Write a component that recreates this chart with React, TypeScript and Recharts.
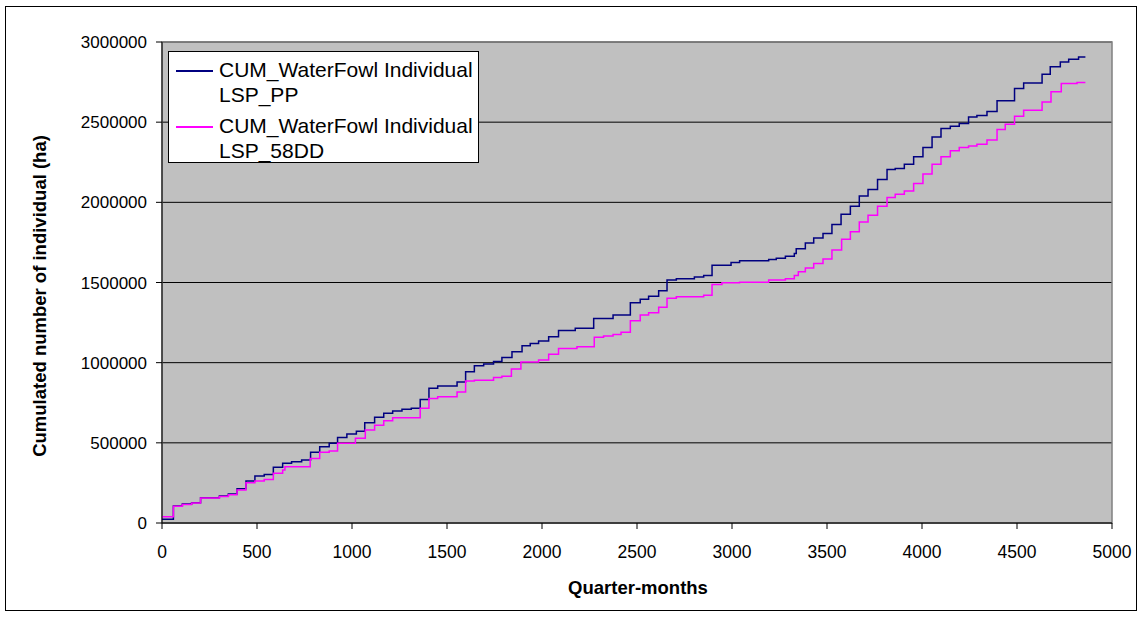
import React from "react";
import { LineChart, Line, XAxis, YAxis, CartesianGrid, ReferenceArea, Legend } from "recharts";

const xTicks = [0, 500, 1000, 1500, 2000, 2500, 3000, 3500, 4000, 4500, 5000];
const yTicks = [0, 500000, 1000000, 1500000, 2000000, 2500000, 3000000];

const ppNames = ["CUM_WaterFowl Individual", "LSP_PP"];
const ddNames = ["CUM_WaterFowl Individual", "LSP_58DD"];

// quarter-month where each step starts, cumulated value after it
const ppQuarter = [
  0, 60, 107, 156, 203, 302, 349, 395, 442, 489, 538, 586, 635, 682, 735, 782, 830, 880, 924, 973,
  1023, 1067, 1119, 1167, 1214, 1263, 1312, 1359, 1405, 1451, 1553, 1598, 1644, 1693, 1745, 1789,
  1842, 1895, 1938, 1982, 2035, 2087, 2175, 2272, 2374, 2465, 2517, 2561, 2614, 2658, 2707, 2802,
  2851, 2895, 2995, 3040, 3193, 3233, 3281, 3328, 3338, 3386, 3430, 3479, 3526, 3574, 3623, 3670,
  3716, 3766, 3816, 3859, 3907, 3956, 4005, 4053, 4100, 4149, 4196, 4245, 4289, 4342, 4395, 4487,
  4535, 4632, 4675, 4728, 4772, 4824, 4860,
];
const ppValue = [
  23000, 106000, 118000, 127000, 158000, 168000, 181000, 214000, 262000, 293000, 303000, 347000,
  372000, 382000, 393000, 441000, 476000, 497000, 534000, 555000, 573000, 625000, 659000, 684000,
  698000, 709000, 715000, 771000, 840000, 854000, 879000, 943000, 981000, 991000, 1008000, 1033000,
  1068000, 1105000, 1120000, 1135000, 1162000, 1201000, 1214000, 1276000, 1297000, 1373000, 1396000,
  1415000, 1448000, 1515000, 1523000, 1534000, 1544000, 1608000, 1625000, 1635000, 1644000, 1652000,
  1664000, 1681000, 1710000, 1747000, 1778000, 1806000, 1862000, 1926000, 1976000, 2039000, 2080000,
  2143000, 2205000, 2211000, 2238000, 2284000, 2342000, 2408000, 2460000, 2475000, 2492000, 2533000,
  2542000, 2566000, 2633000, 2710000, 2745000, 2799000, 2845000, 2876000, 2893000, 2907000, 2907000,
];

const ddQuarter = [
  0, 60, 107, 156, 203, 302, 349, 395, 442, 489, 538, 586, 635, 647, 780, 830, 880, 924, 1018, 1070,
  1119, 1167, 1214, 1359, 1405, 1451, 1553, 1598, 1644, 1745, 1789, 1839, 1889, 1982, 2035, 2087,
  2184, 2275, 2324, 2374, 2416, 2465, 2517, 2561, 2614, 2658, 2707, 2851, 2895, 2947, 3040, 3193,
  3281, 3328, 3349, 3386, 3430, 3479, 3526, 3577, 3623, 3670, 3716, 3766, 3816, 3859, 3907, 3956,
  4005, 4053, 4100, 4149, 4196, 4245, 4289, 4342, 4395, 4438, 4487, 4535, 4632, 4679, 4733, 4816,
  4860,
];
const ddValue = [
  39000, 104000, 116000, 125000, 156000, 166000, 176000, 206000, 251000, 262000, 272000, 310000,
  330000, 351000, 403000, 441000, 449000, 497000, 528000, 580000, 609000, 638000, 657000, 715000,
  777000, 787000, 817000, 885000, 891000, 908000, 915000, 960000, 1004000, 1016000, 1052000, 1089000,
  1099000, 1158000, 1166000, 1176000, 1189000, 1261000, 1297000, 1311000, 1345000, 1401000, 1411000,
  1421000, 1488000, 1498000, 1502000, 1515000, 1523000, 1544000, 1567000, 1590000, 1619000, 1646000,
  1702000, 1769000, 1816000, 1878000, 1920000, 1976000, 2030000, 2051000, 2070000, 2118000, 2176000,
  2238000, 2284000, 2321000, 2342000, 2352000, 2363000, 2388000, 2454000, 2487000, 2537000, 2575000,
  2626000, 2689000, 2741000, 2747000, 2747000,
];

const ppData = ppQuarter.map((q, i) => ({ q, v: ppValue[i] }));
const ddData = ddQuarter.map((q, i) => ({ q, v: ddValue[i] }));

const FONT = "'Liberation Sans', Arial, sans-serif";

function LegendBox() {
  const entries = [
    { color: "#000080", lines: ppNames },
    { color: "#FF00FF", lines: ddNames },
  ];
  return (
    <div
      style={{
        background: "#fff",
        border: "1px solid #000",
        width: 311,
        height: 112,
        boxSizing: "border-box",
        padding: "5px 0 0 7px",
        fontFamily: FONT,
        fontSize: 21,
        lineHeight: "25px",
        color: "#000",
        textAlign: "left",
      }}
    >
      {entries.map((e, i) => (
        <div key={i} style={{ display: "flex", alignItems: "flex-start", marginBottom: 6 }}>
          <div style={{ width: 37, height: 1.5, background: e.color, marginTop: 13, marginRight: 6 }} />
          <div>
            {e.lines.map((l) => (
              <div key={l}>{l}</div>
            ))}
          </div>
        </div>
      ))}
    </div>
  );
}

export default function App() {
  return (
    <div style={{ position: "absolute", left: 0, top: 0, width: 1143, height: 620, background: "#fff" }}>
      <div
        style={{
          position: "absolute",
          left: 5,
          top: 6,
          width: 1132,
          height: 605,
          border: "1px solid #000",
          boxSizing: "border-box",
        }}
      />
      <LineChart
        width={1143}
        height={620}
        margin={{ top: 42, right: 31, bottom: 37, left: 4 }}
        style={{ position: "absolute", left: 0, top: 0 }}
      >
        <CartesianGrid vertical={false} stroke="#000" fill="#C0C0C0" fillOpacity={1} />
        <ReferenceArea x1={0} x2={5000} y1={0} y2={3000000} fill="none" stroke="#808080" strokeWidth={1.5} />
        <XAxis
          dataKey="q"
          type="number"
          domain={[0, 5000]}
          ticks={xTicks}
          allowDataOverflow
          stroke="#000"
          tickLine={{ stroke: "#000" }}
          tickSize={6}
          tick={{ fill: "#000", fontSize: 17.5, fontFamily: FONT }}
          tickMargin={17}
          height={60}
          label={() => (
            <text x={638} y={594} textAnchor="middle" fontFamily={FONT} fontSize={18.5} fontWeight="bold" fill="#000">
              Quarter-months
            </text>
          )}
        />
        <YAxis
          type="number"
          domain={[0, 3000000]}
          ticks={yTicks}
          stroke="#000"
          tickLine={{ stroke: "#000" }}
          tickSize={6}
          tickMargin={9}
          tick={{ fill: "#000", fontSize: 17, fontFamily: FONT }}
          width={158}
          label={() => (
            <text
              x={46}
              y={296}
              transform="rotate(-90 46 296)"
              textAnchor="middle"
              fontFamily={FONT}
              fontSize={18.5}
              fontWeight="bold"
              fill="#000"
            >
              Cumulated number of individual (ha)
            </text>
          )}
        />
        <Legend
          layout="vertical"
          align="center"
          verticalAlign="middle"
          content={() => <LegendBox />}
          wrapperStyle={{ left: 168, top: 51, width: 311, height: 112 }}
        />
        <Line
          data={ppData}
          dataKey="v"
          name={ppNames.join(" ")}
          type="stepAfter"
          stroke="#000080"
          strokeWidth={1.5}
          dot={false}
          isAnimationActive={false}
        />
        <Line
          data={ddData}
          dataKey="v"
          name={ddNames.join(" ")}
          type="stepAfter"
          stroke="#FF00FF"
          strokeWidth={1.5}
          dot={false}
          isAnimationActive={false}
        />
      </LineChart>
    </div>
  );
}
